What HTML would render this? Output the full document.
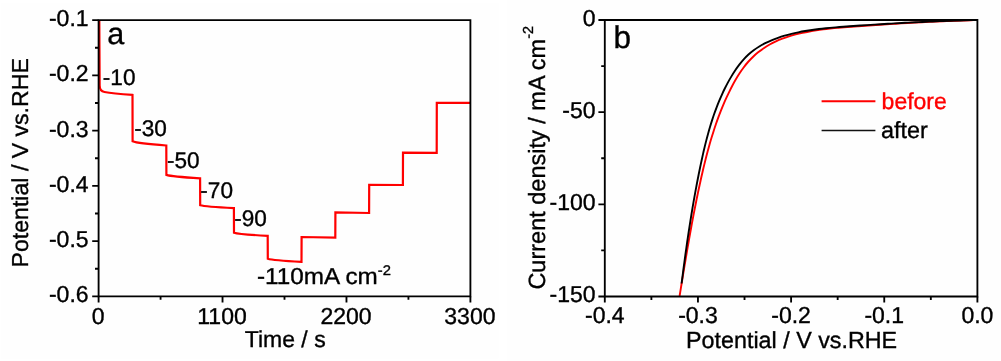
<!DOCTYPE html>
<html lang="en"><head><meta charset="utf-8"><title>Figure</title>
<style>html,body{margin:0;padding:0;background:#fff;}svg{display:block;}text{font-family:"Liberation Sans",sans-serif;fill:#000;stroke:#000;stroke-width:0.35px;text-rendering:geometricPrecision;}</style></head><body>
<svg width="1001" height="361" viewBox="0 0 1001 361">
<rect x="0" y="0" width="1001" height="361" fill="#ffffff"/>
<rect x="1" y="2.7" width="497.7" height="356" fill="#fefefe"/>
<rect x="507.2" y="0" width="493.8" height="361" fill="#fefefe"/>
<g id="panelA">
<path d="M98.60,20.10 H92.20 M98.60,47.73 H95.00 M98.60,75.36 H92.20 M98.60,102.99 H95.00 M98.60,130.62 H92.20 M98.60,158.25 H95.00 M98.60,185.88 H92.20 M98.60,213.51 H95.00 M98.60,241.14 H92.20 M98.60,268.77 H95.00 M98.60,296.40 H92.20 M98.60,296.40 V302.40 M160.57,296.40 V299.80 M222.53,296.40 V302.40 M284.50,296.40 V299.80 M346.47,296.40 V302.40 M408.43,296.40 V299.80 M470.40,296.40 V302.40" fill="none" stroke="#000" stroke-width="1.85"/>
<text x="88.6" y="26.00" font-size="23" text-anchor="end">-0.1</text>
<text x="88.6" y="81.26" font-size="23" text-anchor="end">-0.2</text>
<text x="88.6" y="136.52" font-size="23" text-anchor="end">-0.3</text>
<text x="88.6" y="191.78" font-size="23" text-anchor="end">-0.4</text>
<text x="88.6" y="247.04" font-size="23" text-anchor="end">-0.5</text>
<text x="88.6" y="302.30" font-size="23" text-anchor="end">-0.6</text>
<text x="98.10" y="323.6" font-size="23" text-anchor="middle">0</text>
<text x="222.03" y="323.6" font-size="23" text-anchor="middle">1100</text>
<text x="345.97" y="323.6" font-size="23" text-anchor="middle">2200</text>
<text x="469.90" y="323.6" font-size="23" text-anchor="middle">3300</text>
<text x="285.2" y="347.3" font-size="23" text-anchor="middle">Time / s</text>
<text transform="translate(28.4,162.8) rotate(-90)" font-size="23.1" text-anchor="middle">Potential / V vs.RHE</text>
<path d="M99.3,20 L99.65,85.5 C99.7,89.8 101.2,91.4 104.5,92 C110,93 120,94 132.5,94.9 L132.60,141.30 C137.00,143.23 150.00,144.37 166.30,145.50 L166.40,174.90 C170.80,176.46 183.80,177.38 200.10,178.30 L200.20,205.30 C204.60,206.59 217.60,207.34 233.90,208.10 L234.00,232.70 C238.40,234.13 251.40,234.96 267.70,235.80 L267.80,258.70 C272.20,260.13 285.20,260.96 301.50,261.80 L301.6,237 L335.3,237.6 L335.4,212.3 L369.1,213 L369.2,184.8 L402.9,185 L403,152.6 L436.7,152.8 L436.8,102.9 L470.4,102.9" fill="none" stroke="#ff0000" stroke-width="2.2" stroke-linejoin="miter"/>
<path d="M98.60,20.10 L470.40,20.10 L470.40,296.40 L98.60,296.40 Z" fill="none" stroke="#000" stroke-width="1.85" stroke-linejoin="miter"/>
<text x="102.80" y="84.70" font-size="22.6">-10</text>
<text x="134.20" y="135.70" font-size="22.6">-30</text>
<text x="167.00" y="168.10" font-size="22.6">-50</text>
<text x="200.30" y="198.10" font-size="22.6">-70</text>
<text x="234.20" y="226.30" font-size="22.6">-90</text>
<text transform="translate(256.9,284.1) scale(1.055,1)" font-size="23">-110mA cm<tspan font-size="14" dy="-9.4">-2</tspan></text>
<text x="107.2" y="44.3" font-size="30.5">a</text>
</g>
<g id="panelB">
<path d="M604.80,20.00 H598.40 M604.80,66.08 H601.20 M604.80,112.17 H598.40 M604.80,158.25 H601.20 M604.80,204.33 H598.40 M604.80,250.42 H601.20 M604.80,296.50 H598.40 M604.80,296.50 V302.50 M651.38,296.50 V299.90 M697.95,296.50 V302.50 M744.52,296.50 V299.90 M791.10,296.50 V302.50 M837.67,296.50 V299.90 M884.25,296.50 V302.50 M930.83,296.50 V299.90 M977.40,296.50 V302.50" fill="none" stroke="#000" stroke-width="1.85"/>
<text x="595.6" y="25.90" font-size="23" text-anchor="end">0</text>
<text x="595.6" y="118.07" font-size="23" text-anchor="end">-50</text>
<text x="595.6" y="210.23" font-size="23" text-anchor="end">-100</text>
<text x="595.6" y="302.40" font-size="23" text-anchor="end">-150</text>
<text x="604.80" y="323.4" font-size="23" text-anchor="middle">-0.4</text>
<text x="697.95" y="323.4" font-size="23" text-anchor="middle">-0.3</text>
<text x="791.10" y="323.4" font-size="23" text-anchor="middle">-0.2</text>
<text x="884.25" y="323.4" font-size="23" text-anchor="middle">-0.1</text>
<text x="977.40" y="323.4" font-size="23" text-anchor="middle">0.0</text>
<text x="791.6" y="347.9" font-size="23.3" text-anchor="middle">Potential / V vs.RHE</text>
<text transform="translate(544.7,289.6) rotate(-90)" font-size="23.5" text-anchor="start">Current density / mA cm<tspan font-size="14.5" dy="-11.6">-2</tspan></text>
<path d="M977.70,20.00 C976.55,20.04 973.11,20.14 970.81,20.21 C968.51,20.28 966.20,20.36 963.89,20.44 C961.57,20.52 959.26,20.60 956.94,20.69 C954.61,20.78 952.29,20.87 949.96,20.96 C947.63,21.06 945.29,21.15 942.96,21.25 C940.62,21.35 938.28,21.46 935.93,21.56 C933.59,21.67 931.24,21.78 928.89,21.89 C926.54,22.01 924.19,22.12 921.84,22.24 C919.49,22.36 917.13,22.49 914.77,22.61 C912.41,22.74 910.06,22.87 907.70,23.00 C905.34,23.13 902.98,23.27 900.61,23.41 C898.25,23.54 895.89,23.69 893.53,23.83 C891.17,23.98 888.81,24.12 886.45,24.27 C884.09,24.42 881.72,24.58 879.36,24.73 C877.01,24.89 874.65,25.05 872.29,25.21 C869.93,25.37 867.58,25.54 865.22,25.71 C862.87,25.88 860.52,26.05 858.17,26.22 C855.82,26.39 853.47,26.57 851.13,26.75 C848.79,26.93 846.45,27.11 844.11,27.30 C841.77,27.49 839.44,27.68 837.11,27.90 C834.78,28.11 832.46,28.33 830.13,28.57 C827.81,28.82 825.50,29.08 823.19,29.37 C820.87,29.66 818.57,29.97 816.27,30.32 C813.97,30.66 811.67,31.04 809.38,31.45 C807.09,31.87 804.81,32.32 802.53,32.82 C800.26,33.32 797.98,33.85 795.72,34.44 C793.47,35.04 791.21,35.67 788.99,36.37 C786.76,37.08 784.55,37.83 782.37,38.67 C780.20,39.50 778.04,40.39 775.93,41.37 C773.82,42.34 771.74,43.39 769.71,44.53 C767.68,45.66 765.69,46.89 763.76,48.19 C761.83,49.49 759.95,50.87 758.13,52.33 C756.32,53.79 754.56,55.33 752.88,56.94 C751.20,58.55 749.58,60.25 748.04,62.00 C746.50,63.75 745.04,65.58 743.63,67.46 C742.22,69.33 740.88,71.27 739.59,73.24 C738.29,75.21 737.06,77.24 735.87,79.28 C734.68,81.32 733.54,83.41 732.43,85.50 C731.33,87.59 730.26,89.71 729.23,91.83 C728.19,93.95 727.19,96.08 726.22,98.22 C725.24,100.36 724.30,102.50 723.39,104.66 C722.47,106.82 721.59,108.98 720.73,111.15 C719.87,113.33 719.04,115.51 718.23,117.70 C717.42,119.89 716.64,122.08 715.88,124.29 C715.12,126.49 714.39,128.70 713.67,130.92 C712.96,133.13 712.26,135.36 711.59,137.59 C710.91,139.82 710.26,142.06 709.62,144.30 C708.98,146.54 708.36,148.79 707.75,151.04 C707.14,153.30 706.55,155.56 705.97,157.82 C705.39,160.08 704.83,162.35 704.28,164.63 C703.72,166.90 703.18,169.18 702.65,171.46 C702.12,173.74 701.60,176.03 701.09,178.32 C700.57,180.61 700.07,182.90 699.57,185.20 C699.07,187.49 698.58,189.79 698.09,192.09 C697.61,194.40 697.13,196.70 696.66,199.01 C696.19,201.31 695.73,203.62 695.27,205.94 C694.81,208.25 694.36,210.56 693.91,212.87 C693.47,215.19 693.03,217.50 692.59,219.82 C692.16,222.14 691.73,224.45 691.31,226.77 C690.88,229.09 690.46,231.41 690.05,233.73 C689.63,236.04 689.22,238.36 688.81,240.68 C688.41,243.00 688.00,245.32 687.61,247.63 C687.21,249.95 686.81,252.27 686.42,254.58 C686.03,256.89 685.64,259.21 685.25,261.52 C684.86,263.83 684.48,266.14 684.10,268.45 C683.72,270.75 683.34,273.06 682.96,275.36 C682.58,277.66 682.21,279.96 681.83,282.26 C681.46,284.56 681.09,286.85 680.71,289.14 C680.34,291.43 679.79,294.85 679.60,296.00" fill="none" stroke="#ff0000" stroke-width="1.9"/>
<path d="M977.70,20.00 C976.54,20.03 973.08,20.10 970.77,20.16 C968.45,20.22 966.14,20.28 963.83,20.34 C961.52,20.41 959.22,20.48 956.91,20.55 C954.60,20.62 952.29,20.70 949.98,20.78 C947.68,20.86 945.37,20.95 943.06,21.04 C940.76,21.12 938.45,21.22 936.15,21.31 C933.84,21.41 931.54,21.51 929.23,21.61 C926.93,21.71 924.62,21.82 922.32,21.93 C920.02,22.04 917.71,22.15 915.41,22.27 C913.11,22.38 910.81,22.50 908.51,22.62 C906.21,22.74 903.90,22.87 901.60,23.00 C899.30,23.12 897.00,23.25 894.70,23.39 C892.40,23.52 890.10,23.66 887.80,23.79 C885.51,23.93 883.21,24.07 880.91,24.22 C878.61,24.36 876.31,24.51 874.01,24.66 C871.72,24.80 869.42,24.95 867.12,25.11 C864.83,25.26 862.53,25.42 860.23,25.57 C857.94,25.73 855.64,25.89 853.34,26.05 C851.05,26.21 848.75,26.37 846.46,26.54 C844.16,26.71 841.87,26.87 839.57,27.06 C837.28,27.24 834.98,27.42 832.69,27.63 C830.39,27.83 828.10,28.05 825.80,28.28 C823.51,28.52 821.21,28.77 818.92,29.06 C816.63,29.34 814.33,29.64 812.04,29.97 C809.74,30.30 807.45,30.66 805.16,31.06 C802.86,31.45 800.57,31.88 798.28,32.35 C795.99,32.82 793.69,33.32 791.42,33.87 C789.14,34.43 786.87,35.02 784.62,35.68 C782.38,36.33 780.15,37.03 777.96,37.79 C775.77,38.56 773.60,39.38 771.47,40.27 C769.35,41.16 767.26,42.11 765.23,43.15 C763.20,44.18 761.20,45.27 759.28,46.46 C757.35,47.64 755.47,48.90 753.67,50.26 C751.88,51.61 750.14,53.05 748.48,54.57 C746.82,56.10 745.23,57.72 743.71,59.40 C742.18,61.08 740.73,62.85 739.32,64.66 C737.92,66.47 736.58,68.35 735.29,70.26 C734.00,72.17 732.76,74.13 731.57,76.12 C730.37,78.10 729.23,80.12 728.12,82.14 C727.01,84.17 725.95,86.22 724.92,88.29 C723.89,90.35 722.90,92.43 721.95,94.53 C720.99,96.63 720.07,98.74 719.19,100.87 C718.30,103.00 717.45,105.14 716.63,107.29 C715.81,109.45 715.02,111.61 714.25,113.79 C713.49,115.97 712.76,118.16 712.05,120.36 C711.34,122.55 710.65,124.76 709.99,126.98 C709.33,129.20 708.70,131.42 708.08,133.65 C707.47,135.89 706.87,138.13 706.30,140.37 C705.72,142.61 705.16,144.86 704.62,147.12 C704.08,149.37 703.55,151.63 703.04,153.89 C702.52,156.15 702.03,158.41 701.54,160.67 C701.05,162.93 700.57,165.20 700.10,167.46 C699.63,169.73 699.17,171.99 698.72,174.25 C698.27,176.52 697.82,178.78 697.39,181.04 C696.95,183.30 696.52,185.57 696.10,187.83 C695.67,190.09 695.26,192.35 694.85,194.62 C694.44,196.88 694.04,199.14 693.64,201.41 C693.25,203.67 692.86,205.93 692.48,208.20 C692.09,210.46 691.72,212.73 691.35,215.00 C690.98,217.26 690.61,219.53 690.25,221.80 C689.89,224.07 689.54,226.34 689.19,228.61 C688.84,230.88 688.50,233.15 688.16,235.43 C687.82,237.70 687.48,239.98 687.15,242.25 C686.82,244.53 686.50,246.81 686.18,249.09 C685.85,251.37 685.54,253.66 685.22,255.94 C684.91,258.23 684.60,260.52 684.29,262.81 C683.98,265.10 683.68,267.39 683.38,269.69 C683.07,271.99 682.78,274.28 682.48,276.59 C682.18,278.89 681.75,282.35 681.60,283.50" fill="none" stroke="#000000" stroke-width="1.9"/>
<path d="M604.80,20.00 L977.40,20.00 L977.40,296.50 L604.80,296.50 Z" fill="none" stroke="#000" stroke-width="1.85" stroke-linejoin="miter"/>
<path d="M821.6,101.2 H875.4" stroke="#ff0000" stroke-width="1.9"/>
<path d="M821.6,130.5 H875.4" stroke="#111" stroke-width="1.7"/>
<text x="881.6" y="108.6" font-size="23" style="fill:#ff0000;stroke:#ff0000">before</text>
<text x="881" y="137.9" font-size="23.4">after</text>
<text x="613.6" y="47.8" font-size="31.5">b</text>
</g>
</svg></body></html>
